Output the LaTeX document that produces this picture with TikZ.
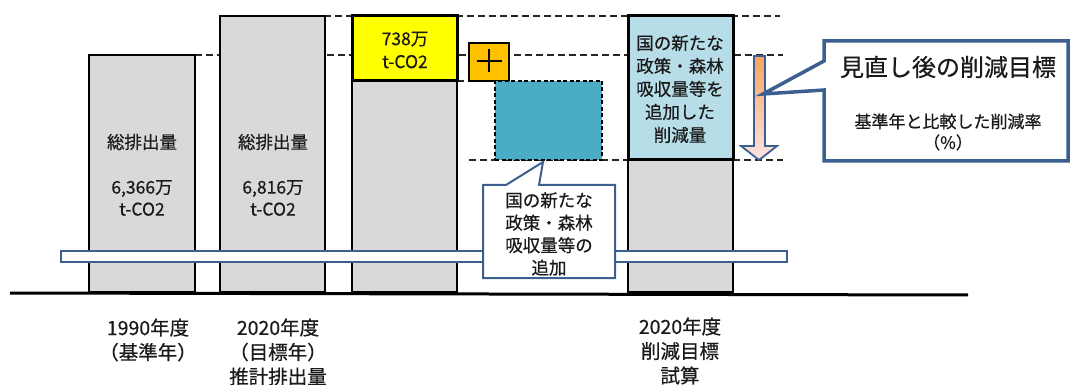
\documentclass[tikz,border=0pt]{standalone}
\usepackage{fontspec}
\setmainfont{Noto Sans CJK JP}[FakeBold=0.5]
\usetikzlibrary{fit}
\definecolor{bargray}{HTML}{D9D9D9}
\definecolor{bandblue}{HTML}{3B5F8F}
\definecolor{yel}{HTML}{FFFF00}
\definecolor{org}{HTML}{FFC000}
\definecolor{tealbox}{HTML}{4BACC6}
\definecolor{lblue}{HTML}{B7DEE8}
\definecolor{arrtop}{HTML}{F7A35C}
\definecolor{arrbot}{HTML}{FCE4E4}
\definecolor{ink}{HTML}{1A1A1A}
\begin{document}
\begin{tikzpicture}[x=1pt,y=-1pt,
  box/.style={inner sep=0pt, outer sep=0pt},
  bar/.style={box, draw=black, line width=1.2pt, fill=bargray},
  heavybox/.style={box, draw=black, line width=3pt},
  guide/.style={draw=black!85, line width=1.2pt, dash pattern=on 7pt off 4pt},
  txt/.style={font=\fontsize{17.5pt}{23pt}\selectfont, align=center, inner sep=0pt, text=ink},
  lbl/.style={font=\fontsize{19.5pt}{24.5pt}\selectfont, align=center, inner sep=0pt, text=ink},
  callout/.style={draw=bandblue, fill=white, line join=miter},
]
\useasboundingbox (0,0) rectangle (1072,385);

% guide lines
\draw[guide] (313,16) -- (780,16);
\draw[guide] (140,55) -- (783,55);
\draw[guide] (457,81) -- (495,81);
\draw[guide] (469,160) -- (783,160);

% bars
\node[bar, fit={(89,55)(195,292)}] (b1) {};
\node[bar, fit={(220,16)(325,292)}] (b2) {};
\node[bar, fit={(352,81)(457,292)}] (b3) {};
\node[heavybox, fill=yel, fit={(352,16)(457,81)}] (b3top) {};
\node[bar, fit={(628,160)(733,292)}] (b4) {};
\node[heavybox, fill=lblue, fit={(628,16)(733,160)}] (b4top) {};

% plus and added block
\node[box, draw=black, line width=1.5pt, fill=org, fit={(469,43)(509,81)}] (plus) {};
\draw[line width=2.2pt] (489,61) ++(-12.5,0) -- ++(25,0);
\draw[line width=2.2pt] (489,61) ++(0,-11.5) -- ++(0,23);
\node[box, draw=black, line width=1.2pt, dash pattern=on 4pt off 2.5pt, fill=tealbox, fit={(495,81)(602,160)}] (add) {};

% band
\node[box, draw=bandblue, line width=2.5pt, fill=white, fit={(61,251)(787,262)}] (band) {};

% baseline
\draw[line width=3pt] (10,293) -- (968,295);

% small callout
\coordinate (stip) at (543,162);
\path[callout, line width=2pt] (483,185) -- (506,185) -- (stip) -- (539,185) -- (615,185) -- (615,278) -- (483,278) -- cycle;
\node[txt, font=\fontsize{17.5pt}{22.5pt}\selectfont] (stext) at (549,234) {国の新たな\\政策・森林\\吸収量等の\\追加};

% arrow
\coordinate (atip) at (759,160);
\path[draw=bandblue, line width=1.8pt, top color=arrtop, bottom color=arrbot, line join=miter]
  (754,56) -- (765,56) -- (765,146) -- (777,146) -- (atip) -- (741,146) -- (754,146) -- cycle;

% big callout
\coordinate (btip) at (763,94);
\path[callout, line width=3.5pt] (824,41) -- (1068,41) -- (1068,161) -- (824,161) -- (824,90) -- (btip) -- (824,61) -- cycle;
\node[inner sep=0pt, font=\fontsize{24pt}{26pt}\selectfont, text=ink] (btitle) at (948,67) {見直し後の削減目標};
\node[txt, font=\fontsize{17pt}{21pt}\selectfont] (bsub) at (948,132) {基準年と比較した削減率\\（\%）};

% texts in bars
\node[txt] (t1a) at (142,142) {総排出量};
\node[txt, font=\fontsize{17.5pt}{22pt}\selectfont] (t1b) at (142,198) {6,366万\\t-CO2};
\node[txt] (t2a) at (273,142) {総排出量};
\node[txt, font=\fontsize{17.5pt}{22pt}\selectfont] (t2b) at (273,198) {6,816万\\t-CO2};
\node[txt] (t3) at (405,50) {738万\\t-CO2};
\node[txt] (t4) at (680,89) {国の新たな\\政策・森林\\吸収量等を\\追加した\\削減量};

% axis labels
\node[lbl] (l1) at (148,340) {1990年度\\（基準年）};
\node[lbl] (l2) at (278,352) {2020年度\\（目標年）\\推計排出量};
\node[lbl] (l4) at (680,351) {2020年度\\削減目標\\試算};
\end{tikzpicture}
\end{document}
